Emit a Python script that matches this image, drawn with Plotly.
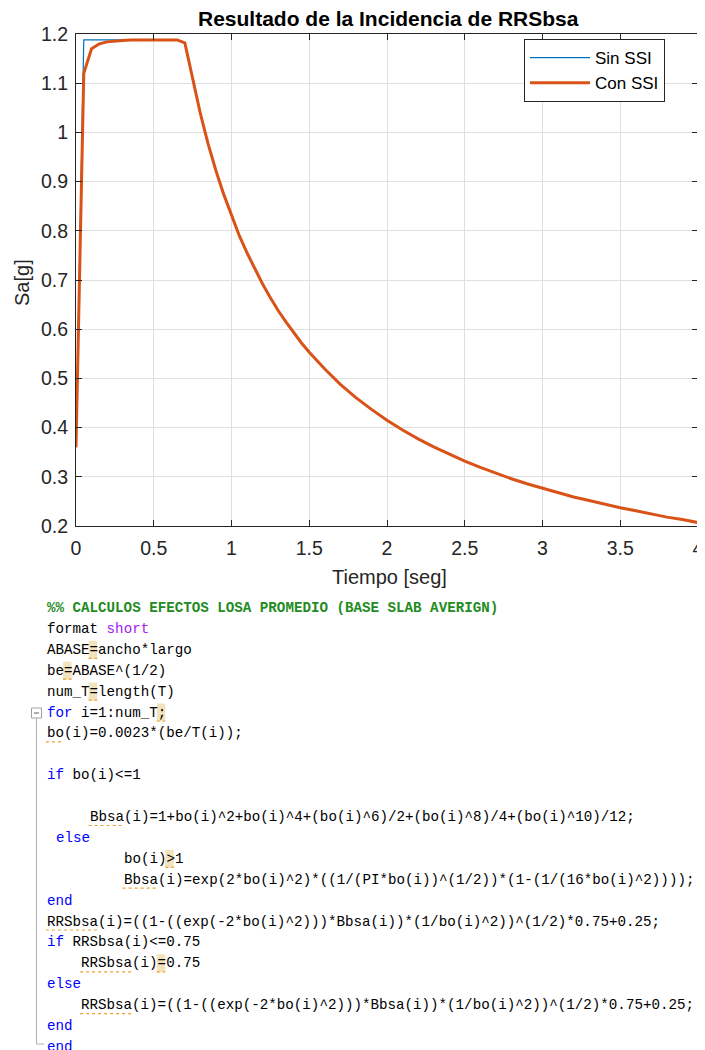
import plotly.graph_objects as go

# ---------------- data ----------------
T = [0.00, 0.05, 0.10, 0.15, 0.20, 0.25, 0.30, 0.35, 0.40, 0.45, 0.50, 0.55,
     0.60, 0.65, 0.70, 0.75, 0.80, 0.85, 0.90, 0.95, 1.00, 1.05, 1.10, 1.15,
     1.20, 1.25, 1.30, 1.35, 1.40, 1.45, 1.50, 1.60, 1.70, 1.80, 1.90, 2.00,
     2.10, 2.20, 2.30, 2.40, 2.50, 2.60, 2.70, 2.80, 2.90, 3.00, 3.10, 3.20,
     3.30, 3.40, 3.50, 3.60, 3.70, 3.80, 3.90, 4.00]

sin_ssi = [0.360, 1.188, 1.188, 1.188, 1.188, 1.188, 1.188, 1.188, 1.188, 1.188,
           1.188, 1.188, 1.188, 1.188, 1.182, 1.107, 1.038, 0.976, 0.922, 0.874,
           0.830, 0.790, 0.755, 0.722, 0.692, 0.664, 0.638, 0.615, 0.593, 0.572,
           0.553, 0.519, 0.488, 0.461, 0.437, 0.415, 0.395, 0.377, 0.361, 0.346,
           0.332, 0.319, 0.307, 0.296, 0.286, 0.277, 0.268, 0.259, 0.252, 0.244,
           0.237, 0.231, 0.224, 0.218, 0.213, 0.207]

con_ssi = [0.360, 1.120, 1.170, 1.180, 1.184, 1.186, 1.187, 1.188, 1.188, 1.188,
           1.188, 1.188, 1.188, 1.188, 1.182, 1.107, 1.038, 0.976, 0.922, 0.874,
           0.830, 0.790, 0.755, 0.722, 0.692, 0.664, 0.638, 0.615, 0.593, 0.572,
           0.553, 0.519, 0.488, 0.461, 0.437, 0.415, 0.395, 0.377, 0.361, 0.346,
           0.332, 0.319, 0.307, 0.296, 0.286, 0.277, 0.268, 0.259, 0.252, 0.244,
           0.237, 0.231, 0.224, 0.218, 0.213, 0.207]

x_tick_vals = [0, 0.5, 1, 1.5, 2, 2.5, 3, 3.5, 4]
x_tick_text = ["0", "0.5", "1", "1.5", "2", "2.5", "3", "3.5", "4"]
y_tick_vals = [0.2, 0.3, 0.4, 0.5, 0.6, 0.7, 0.8, 0.9, 1.0, 1.1, 1.2]
y_tick_text = ["0.2", "0.3", "0.4", "0.5", "0.6", "0.7", "0.8", "0.9", "1", "1.1", "1.2"]

series_names = ["Sin SSI", "Con SSI"]
title_text = "Resultado de la Incidencia de RRSbsa"
x_title = "Tiempo [seg]"
y_title = "Sa[g]"

# code listing: (indent, [(text, style), ...])
code_lines = [
    (0, [("%% CALCULOS EFECTOS LOSA PROMEDIO (BASE SLAB AVERIGN)", "comment")]),
    (0, [("format ", "plain"), ("short", "string")]),
    (0, [("ABASE=ancho*largo", "plain")]),
    (0, [("be=ABASE^(1/2)", "plain")]),
    (0, [("num_T=length(T)", "plain")]),
    (0, [("for", "kw"), (" i=1:num_T;", "plain")]),
    (0, [("bo(i)=0.0023*(be/T(i));", "plain")]),
    (0, []),
    (0, [("if", "kw"), (" bo(i)<=1", "plain")]),
    (0, []),
    (5, [("Bbsa(i)=1+bo(i)^2+bo(i)^4+(bo(i)^6)/2+(bo(i)^8)/4+(bo(i)^10)/12;", "plain")]),
    (1, [("else", "kw")]),
    (9, [("bo(i)>1", "plain")]),
    (9, [("Bbsa(i)=exp(2*bo(i)^2)*((1/(PI*bo(i))^(1/2))*(1-(1/(16*bo(i)^2))));", "plain")]),
    (0, [("end", "kw")]),
    (0, [("RRSbsa(i)=((1-((exp(-2*bo(i)^2)))*Bbsa(i))*(1/bo(i)^2))^(1/2)*0.75+0.25;", "plain")]),
    (0, [("if", "kw"), (" RRSbsa(i)<=0.75", "plain")]),
    (4, [("RRSbsa(i)=0.75", "plain")]),
    (0, [("else", "kw")]),
    (4, [("RRSbsa(i)=((1-((exp(-2*bo(i)^2)))*Bbsa(i))*(1/bo(i)^2))^(1/2)*0.75+0.25;", "plain")]),
    (0, [("end", "kw")]),
    (0, [("end", "kw")]),
]
# (line, column, n_chars) of tan highlighted characters
highlights = [(2, 5, 1), (3, 2, 1), (4, 5, 1), (5, 13, 1), (12, 14, 1), (17, 13, 1)]
# (line, column, n_chars) of orange wavy-underlined spans
underlines = [(2, 5, 1), (3, 2, 1), (4, 5, 1), (5, 13, 1), (6, 0, 2), (10, 5, 4),
              (12, 14, 1), (13, 9, 4), (15, 0, 6), (17, 4, 6), (17, 13, 1), (19, 4, 6)]

# ---------------- layout helpers ----------------
# the page body adds an 8px margin; the figure is sized/placed so that
# screen pixel (x, y) of the 705x1050 window corresponds to the reference.
OFF = 8
W, H = 705 - OFF, 1050 - OFF
def px(x):
    return (x - OFF) / W
def py(y):
    return 1 - (y - OFF) / H

AX_L, AX_R, AX_T, AX_B = 76, 698, 34, 526
BLUE = "#0072BD"
ORANGE = "#D95319"
AXC = "#262626"

fig = go.Figure()
fig.add_trace(go.Scatter(x=T, y=sin_ssi, mode="lines", name=series_names[0],
                         line=dict(color=BLUE, width=1.2)))
fig.add_trace(go.Scatter(x=T, y=con_ssi, mode="lines", name=series_names[1],
                         line=dict(color=ORANGE, width=3)))

axis_common = dict(showline=True, linecolor=AXC, linewidth=1, mirror="ticks",
                   ticks="inside", ticklen=6, tickcolor=AXC, tickwidth=1,
                   showgrid=True, gridcolor="#dfdfdf", gridwidth=1, zeroline=False,
                   automargin=False,
                   tickfont=dict(family="Liberation Sans, Arial", size=19.5, color=AXC))
fig.update_xaxes(range=[0, 4], tickvals=x_tick_vals, ticktext=x_tick_text,
                 domain=[px(AX_L), px(AX_R)], ticklabelstandoff=5, **axis_common)
fig.update_yaxes(range=[0.2, 1.2], tickvals=y_tick_vals, ticktext=y_tick_text,
                 domain=[py(AX_B), py(AX_T)], ticklabelstandoff=3, **axis_common)

annotations = [
    dict(text="<b>%s</b>" % title_text, x=px(388), y=py(18), xref="paper", yref="paper",
         showarrow=False, xanchor="center", yanchor="middle",
         font=dict(family="Liberation Sans, Arial", size=21, color="#000000")),
    dict(text=x_title, x=px(389), y=py(577), xref="paper", yref="paper",
         showarrow=False, xanchor="center", yanchor="middle",
         font=dict(family="Liberation Sans, Arial", size=20, color=AXC)),
    dict(text=y_title, x=px(22), y=py(282), xref="paper", yref="paper",
         showarrow=False, xanchor="center", yanchor="middle", textangle=-90,
         font=dict(family="Liberation Sans, Arial", size=20, color=AXC)),
]

STYLE = {
    "plain": ("#000000", False),
    "kw": ("#0000FF", False),
    "string": ("#A020F0", False),
    "comment": ("#228B22", True),
}
CODE_X0 = 46
CW = 8.52
LINE0 = 608
LH = 20.9

def esc(s):
    return s.replace("&", "&amp;").replace("<", "&lt;").replace(">", "&gt;")

shapes = []
for ln, col, n in highlights:
    yc = LINE0 + LH * ln
    shapes.append(dict(type="rect", xref="paper", yref="paper",
                       x0=px(CODE_X0 + CW * col), x1=px(CODE_X0 + CW * (col + n)),
                       y0=py(yc + 9), y1=py(yc - 9),
                       fillcolor="#F2E3BD", line=dict(width=0), layer="below"))
for ln, col, n in underlines:
    yc = LINE0 + LH * ln
    shapes.append(dict(type="line", xref="paper", yref="paper",
                       x0=px(CODE_X0 + CW * col), x1=px(CODE_X0 + CW * (col + n)),
                       y0=py(yc + 8.5), y1=py(yc + 8.5),
                       line=dict(color="#F0A030", width=1.2, dash="dot")))

for i, (indent, segs) in enumerate(code_lines):
    if not segs:
        continue
    parts = []
    for text, st in segs:
        color, bold = STYLE[st]
        t = esc(text).replace(" ", "\u00a0")
        if bold:
            t = "<b>" + t + "</b>"
        parts.append("<span style='color:%s'>%s</span>" % (color, t))
    annotations.append(dict(text="".join(parts), x=px(CODE_X0 + CW * indent - 1),
                            y=py(LINE0 + LH * i), xref="paper", yref="paper",
                            showarrow=False, xanchor="left", yanchor="middle",
                            font=dict(family="Liberation Mono, Courier New", size=14.2,
                                      color="#000000")))

# fold marker of the for-loop
shapes.append(dict(type="rect", xref="paper", yref="paper", x0=px(31.5), x1=px(41.5),
                   y0=py(718), y1=py(708), line=dict(color="#A0A0A0", width=1),
                   fillcolor="white"))
shapes.append(dict(type="line", xref="paper", yref="paper", x0=px(34), x1=px(39),
                   y0=py(713), y1=py(713), line=dict(color="#606060", width=1)))
shapes.append(dict(type="line", xref="paper", yref="paper", x0=px(36.5), x1=px(36.5),
                   y0=py(718), y1=py(1044), line=dict(color="#B0B0B0", width=1)))
shapes.append(dict(type="line", xref="paper", yref="paper", x0=px(36.5), x1=px(44),
                   y0=py(1044), y1=py(1044), line=dict(color="#B0B0B0", width=1)))

fig.update_layout(
    width=W, height=H, autosize=False,
    margin=dict(l=0, r=0, t=0, b=0, pad=0, autoexpand=False),
    paper_bgcolor="white", plot_bgcolor="white",
    showlegend=True,
    legend=dict(x=px(665), y=py(70.5), xanchor="right", yanchor="middle",
                bgcolor="white", bordercolor=AXC, borderwidth=1,
                font=dict(family="Liberation Sans, Arial", size=17, color="#000000"),
                tracegroupgap=0, itemwidth=60),
    annotations=annotations,
    shapes=shapes,
)

fig.write_html("out.html")
